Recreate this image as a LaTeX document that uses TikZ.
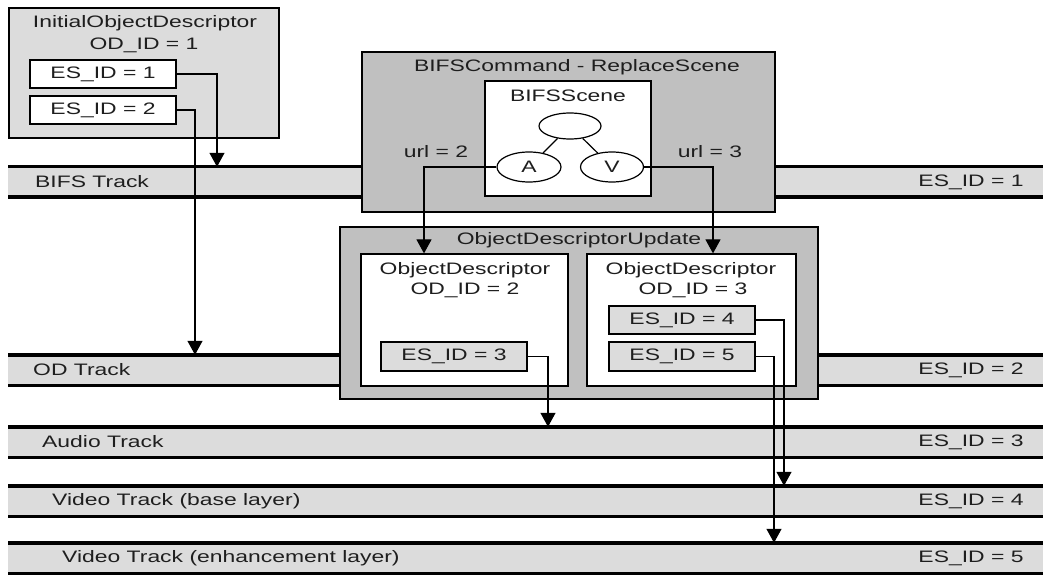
\documentclass[tikz,border=0pt]{standalone}
\usepackage{fontspec}
\setmainfont{Liberation Sans}[FakeStretch=1.38]
\usetikzlibrary{arrows.meta,shapes.geometric}
\definecolor{trackgray}{HTML}{DCDCDC}
\definecolor{boxgray}{HTML}{C0C0C0}
\definecolor{inkgray}{HTML}{1E1E1E}

\begin{document}
\begin{tikzpicture}[x=1pt,y=-1pt,
  every node/.style={font=\fontsize{16.6}{19}\selectfont, text=inkgray, inner sep=0pt},
  track/.style={rectangle, fill=trackgray, minimum width=1035pt, minimum height=30pt, anchor=west},
  trackline/.style={line width=3.4pt, black},
  panel/.style={rectangle, draw=black, line width=1.2pt},
  litepanel/.style={panel, fill=trackgray},
  darkpanel/.style={panel, fill=boxgray},
  whitepanel/.style={panel, fill=white},
  esbox/.style={panel, minimum width=146pt, minimum height=28pt},
  scenenode/.style={ellipse, draw=black, line width=1.2pt, fill=white, minimum height=30pt},
  arr/.style={line width=1.2pt, black, -{Triangle[width=15pt,length=14pt]}}
]
\useasboundingbox (0,0) rectangle (1043,577);

% ---- tracks ----
\node[track] (bifs)  at (8,182) {};
\node[track] (odt)   at (8,370) {};
\node[track] (aud)   at (8,442) {};
\node[track] (vbase) at (8,501) {};
\node[track] (venh)  at (8,558) {};
\foreach \t in {bifs,odt,aud,vbase,venh}{
  \draw[trackline] (\t.north west) -- (\t.north east);
  \draw[trackline] (\t.south west) -- (\t.south east);
}
\node[anchor=west] (bifsl)  at (35,182) {BIFS Track};
\node[anchor=west] (odtl)   at (33,370) {OD Track};
\node[anchor=west] (audl)   at (42,442) {Audio Track};
\node[anchor=west] (vbasel) at (52,501) {Video Track (base layer)};
\node[anchor=west] (venhl)  at (62,558) {Video Track (enhancement layer)};
\node (bifsid)  at (971,182) {ES\_ID = 1};
\node (odtid)   at (971,370) {ES\_ID = 2};
\node (audid)   at (971,442) {ES\_ID = 3};
\node (vbaseid) at (971,501) {ES\_ID = 4};
\node (venhid)  at (971,558) {ES\_ID = 5};

% ---- initial object descriptor ----
\node[litepanel, minimum width=270pt, minimum height=130pt] (iod) at (144,73) {};
\node (iodt) at (145,23) {InitialObjectDescriptor};
\node (iodid) at (144,45) {OD\_ID = 1};
\node[esbox, fill=white] (es1) at (103,74) {ES\_ID = 1};
\node[esbox, fill=white] (es2) at (103,110) {ES\_ID = 2};

% ---- BIFS command ----
\node[darkpanel, minimum width=413pt, minimum height=160pt] (cmd) at (568.5,132) {};
\node (cmdt) at (577,67) {BIFSCommand - ReplaceScene};
\node[whitepanel, minimum width=166pt, minimum height=115pt] (scene) at (568,138.5) {};
\node (scenet) at (568,96) {BIFSScene};
\node[scenenode, minimum width=62pt, minimum height=26pt] (root) at (570,126) {};
\node[scenenode, minimum width=64pt] (na) at (529,167) {A};
\node[scenenode, minimum width=63pt] (nv) at (612,167) {V};
\draw[line width=1.2pt] (root) -- (na);
\draw[line width=1.2pt] (root) -- (nv);
\node (url2) at (436,152) {url = 2};
\node (url3) at (710,152) {url = 3};

% ---- object descriptor update ----
\node[darkpanel, minimum width=478pt, minimum height=172pt] (odu) at (579,313) {};
\node (odut) at (579,240) {ObjectDescriptorUpdate};
\node[whitepanel, minimum width=207pt, minimum height=132pt] (od2) at (464.5,320) {};
\node (od2t) at (465,270) {ObjectDescriptor};
\node (od2id) at (465,290) {OD\_ID = 2};
\node[whitepanel, minimum width=209pt, minimum height=132pt] (od3) at (691.5,320) {};
\node (od3t) at (691,270) {ObjectDescriptor};
\node (od3id) at (693,290) {OD\_ID = 3};
\node[esbox, fill=trackgray, minimum height=29pt] (es3) at (454,356.5) {ES\_ID = 3};
\node[esbox, fill=trackgray] (es4) at (682,320) {ES\_ID = 4};
\node[esbox, fill=trackgray, minimum height=29pt] (es5) at (682,356.5) {ES\_ID = 5};

% ---- connectors ----
\coordinate (x1) at (217,0);
\coordinate (x2) at (195,0);
\coordinate (xa) at (424,0);
\coordinate (xv) at (713,0);
\coordinate (x3) at (548,0);
\coordinate (x4) at (784,0);
\coordinate (x5) at (774,0);
\draw[arr] (es1.east) -| (x1 |- bifs.north);
\draw[arr] (es2.east) -| (x2 |- odt.north);
\draw[arr] (na.west) -| (xa |- od2.north);
\draw[arr] (nv.east) -| (xv |- od3.north);
\draw[arr] (es3.east) -| (x3 |- aud.north);
\draw[arr] (es4.east) -| (x4 |- vbase.north);
\draw[arr] (es5.east) -| (x5 |- venh.north);
\end{tikzpicture}
\end{document}
